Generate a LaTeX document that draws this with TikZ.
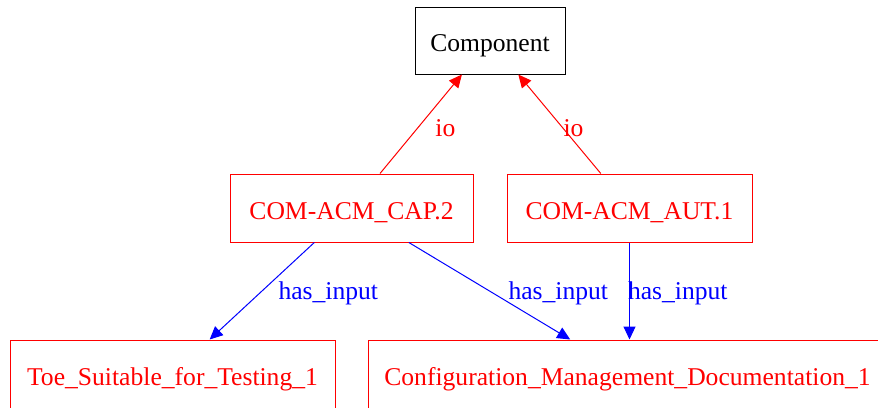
\documentclass[tikz,border=0pt]{standalone}
\usepackage{fontspec}
\setmainfont{Liberation Serif}
\usetikzlibrary{arrows.meta}

\tikzset{
  box/.style={draw=red,text=red,line width=0.5pt,inner sep=0pt,text height=11pt,text depth=0pt},
  io/.style={color=red,line width=0.5pt,-{Triangle[length=6.5pt,width=6pt]}},
  hasin/.style={color=blue,line width=0.5pt,-{Triangle[length=6.5pt,width=6pt]}},
  lbl/.style={inner sep=0pt,anchor=west,font=\fontsize{12.8}{15}\selectfont}
}

\begin{document}
\begin{tikzpicture}[x=0.5pt,y=-0.5pt,font=\fontsize{12.8}{15}\selectfont]
\useasboundingbox (0,0) rectangle (878,407);
\clip (0,0) rectangle (878,407);

\node (comp) at (490,40.5) [draw=black,line width=0.5pt,inner sep=0pt,text height=11pt,text depth=0pt,minimum width=75pt,minimum height=33.5pt] {Component};
\node (cap) at (351.5,208) [box,minimum width=121.5pt,minimum height=34pt] {COM-ACM\_CAP.2};
\node (aut) at (629.5,208) [box,minimum width=122.5pt,minimum height=34pt] {COM-ACM\_AUT.1};
\node (toe) at (172.5,374) [box,minimum width=162.5pt,minimum height=34pt] {Toe\_Suitable\_for\_Testing\_1};
\node (cfg) at (627.5,374) [box,minimum width=259.5pt,minimum height=34pt] {Configuration\_Management\_Documentation\_1};
\coordinate (cfgin) at (aut.south |- cfg.north);

\path[io] (cap) edge node[lbl,text=red,pos=0.5,xshift=7pt,yshift=-2pt] {io} (comp);
\path[io] (aut) edge node[lbl,text=red,pos=0.5,xshift=1.75pt,yshift=-2pt] {io} (comp);
\path[hasin] (cap) edge node[lbl,text=blue,pos=0.5,xshift=8pt,yshift=-1pt] {has\_input} (toe);
\path[hasin] (cap) edge node[lbl,text=blue,pos=0.5,xshift=9.25pt,yshift=-1pt] {has\_input} (cfg);
\path[hasin] (aut.south) edge node[lbl,text=blue,pos=0.5,xshift=-1pt,yshift=-1pt] {has\_input} (cfgin);
\end{tikzpicture}
\end{document}
